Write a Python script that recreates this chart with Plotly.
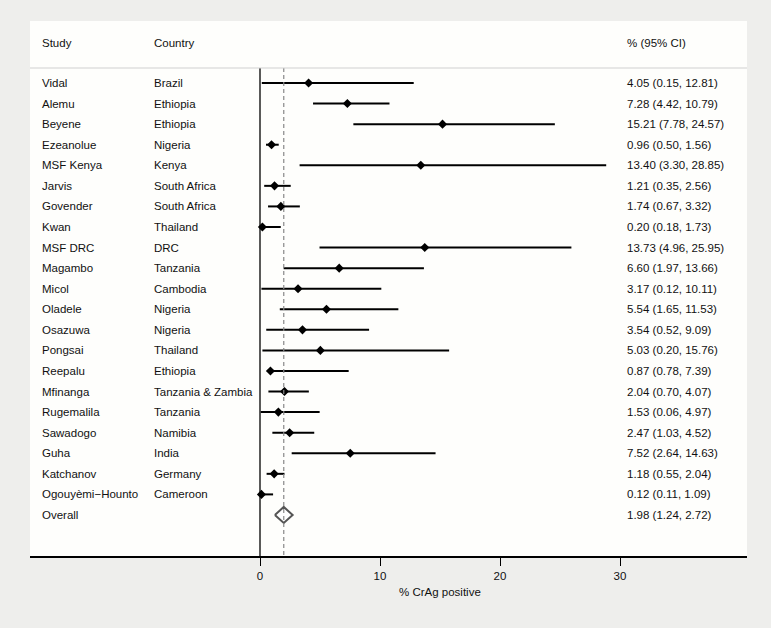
import plotly.graph_objects as go

studies = ["Vidal", "Alemu", "Beyene", "Ezeanolue", "MSF Kenya", "Jarvis", "Govender",
           "Kwan", "MSF DRC", "Magambo", "Micol", "Oladele", "Osazuwa", "Pongsai",
           "Reepalu", "Mfinanga", "Rugemalila", "Sawadogo", "Guha", "Katchanov",
           "Ogouyèmi\u2212Hounto"]
countries = ["Brazil", "Ethiopia", "Ethiopia", "Nigeria", "Kenya", "South Africa",
             "South Africa", "Thailand", "DRC", "Tanzania", "Cambodia", "Nigeria",
             "Nigeria", "Thailand", "Ethiopia", "Tanzania & Zambia", "Tanzania",
             "Namibia", "India", "Germany", "Cameroon"]
est = [4.05, 7.28, 15.21, 0.96, 13.40, 1.21, 1.74, 0.20, 13.73, 6.60, 3.17, 5.54,
       3.54, 5.03, 0.87, 2.04, 1.53, 2.47, 7.52, 1.18, 0.12]
lo = [0.15, 4.42, 7.78, 0.50, 3.30, 0.35, 0.67, 0.18, 4.96, 1.97, 0.12, 1.65,
      0.52, 0.20, 0.78, 0.70, 0.06, 1.03, 2.64, 0.55, 0.11]
hi = [12.81, 10.79, 24.57, 1.56, 28.85, 2.56, 3.32, 1.73, 25.95, 13.66, 10.11, 11.53,
      9.09, 15.76, 7.39, 4.07, 4.97, 4.52, 14.63, 2.04, 1.09]
overall_est, overall_lo, overall_hi = 1.98, 1.24, 2.72
xticks = [0, 10, 20, 30]

W, H = 771, 628
L, R, T, B = 30, 747, 21, 556
x0px, ppu = 260, 12.0
row0px, rowh = 83, 20.57

def yrow(px):
    return (px - row0px) / rowh

xr = [(L - x0px) / ppu, (R - x0px) / ppu]
yr = [yrow(B), yrow(T)]
hdr_y = yrow(43)
line_y = yrow(68)

fig = go.Figure()
font = dict(family="Liberation Sans, Arial, sans-serif", size=11.5, color="#111")

n = len(studies)
rows = list(range(n))
for i in rows:
    fig.add_trace(go.Scatter(x=[lo[i], hi[i]], y=[i, i], mode="lines",
                             line=dict(color="black", width=2), hoverinfo="skip",
                             showlegend=False))
fig.add_trace(go.Scatter(x=est, y=rows, mode="markers",
                         marker=dict(symbol="diamond", size=7, color="black"),
                         showlegend=False))
ov = n
hh = 8 / rowh
fig.add_trace(go.Scatter(x=[overall_lo, overall_est, overall_hi, overall_est, overall_lo],
                         y=[ov, ov - hh, ov, ov + hh, ov], mode="lines", fill="toself",
                         fillcolor="white", line=dict(color="#555", width=2),
                         showlegend=False))
fig.add_shape(type="line", x0=0, x1=0, y0=line_y, y1=yr[0], line=dict(color="black", width=1.3))
fig.add_shape(type="line", x0=overall_est, x1=overall_est, y0=line_y, y1=yr[0],
              line=dict(color="#888", width=1.2, dash="4px,3px"))
fig.add_shape(type="line", xref="paper", x0=0, x1=1, y0=line_y, y1=line_y,
              line=dict(color="#cfcfcf", width=1.2))

def px2paper(px):
    return (px - L) / (R - L)

ann = []
def txt(x, y, s):
    ann.append(dict(x=px2paper(x), xref="paper", y=y, yref="y", text=s, showarrow=False,
                    xanchor="left", yanchor="middle", font=font))

txt(40, hdr_y, "Study")
txt(152, hdr_y, "Country")
txt(625, hdr_y, "% (95% CI)")
for i in rows:
    txt(40, i, studies[i])
    txt(152, i, countries[i])
    txt(625, i, f"{est[i]:.2f} ({lo[i]:.2f}, {hi[i]:.2f})")
txt(40, ov, "Overall")
txt(625, ov, f"{overall_est:.2f} ({overall_lo:.2f}, {overall_hi:.2f})")
ann.append(dict(x=15, xref="x", y=-36 / (B - T), yref="paper", text="% CrAg positive",
                showarrow=False, xanchor="center", yanchor="middle", font=font))

fig.update_layout(
    width=W, height=H,
    margin=dict(l=L, r=W - R, t=T, b=H - B, pad=0),
    paper_bgcolor="#eeeeec", plot_bgcolor="#fefefc",
    annotations=ann,
    xaxis=dict(range=xr, tickvals=xticks, ticks="outside", ticklen=8, tickwidth=1.3,
               tickcolor="black", showline=True, linecolor="black", linewidth=1.5,
               showgrid=False, zeroline=False, tickfont=font),
    yaxis=dict(range=yr, showgrid=False, zeroline=False, showticklabels=False,
               showline=False),
    showlegend=False,
)
fig.write_html("out.html", config={"displayModeBar": False},
               post_script="document.body.style.margin='0';document.body.style.padding='0';"
                           "document.body.style.background='#eeeeec';")
